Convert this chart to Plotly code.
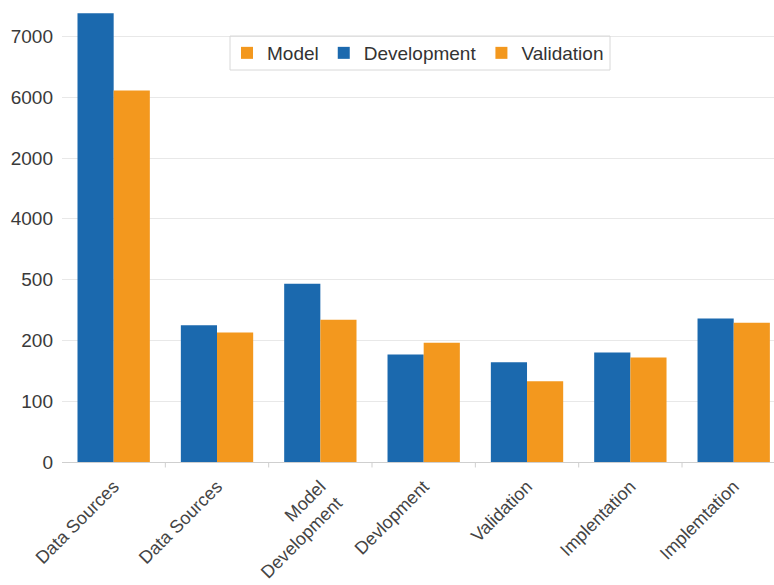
import plotly.graph_objects as go

categories = ["Data Sources", "Data Sources", "Model<br>Development", "Devlopment",
              "Validation", "Implentation", "Implemtation"]
# values in axis position units (the axis has uneven tick labels on even spacing)
development = [7.38, 2.25, 2.93, 1.77, 1.64, 1.80, 2.36]
validation = [6.11, 2.13, 2.34, 1.96, 1.33, 1.72, 2.29]
ytick_labels = ["0", "100", "200", "500", "4000", "2000", "6000", "7000"]

BLUE = "#1b69ae"
ORANGE = "#f3981e"
FONT = "Liberation Sans, Arial, sans-serif"

x = list(range(len(categories)))

fig = go.Figure()
fig.add_trace(go.Bar(x=x, y=development, name="Development", marker_color=BLUE,
                     marker_line_width=0, offsetgroup="d", legendrank=2))
fig.add_trace(go.Bar(x=x, y=validation, name="Validation", marker_color=ORANGE,
                     marker_line_width=0, offsetgroup="v", legendrank=3))
fig.add_trace(go.Bar(x=[None], y=[None], name="Model", marker_color=ORANGE,
                     marker_line_width=0, offsetgroup="v", showlegend=True, legendrank=1))

# plot area: x 62..774 px, y 6..462 px
def px_x(p):
    return (p - 62) / 712.0

def px_y(p):
    return (462 - p) / 456.0

fig.update_layout(
    width=774, height=585,
    margin=dict(l=62, r=0, t=6, b=123),
    barmode="group", bargap=0.3, bargroupgap=0,
    plot_bgcolor="white", paper_bgcolor="white",
    font=dict(family=FONT, color="#3a3a3a"),
    legend=dict(orientation="h", x=px_x(418), y=px_y(53), xanchor="center", yanchor="middle",
                borderwidth=0, bgcolor="rgba(0,0,0,0)",
                font=dict(size=19, color="#333"), itemwidth=30, tracegroupgap=0),
    xaxis=dict(
        range=[-0.5, 6.39], tickmode="array", tickvals=x, ticktext=categories,
        tickangle=-45, tickfont=dict(size=18, color="#444"),
        showline=True, linecolor="#cfcfcf", linewidth=1,
        showgrid=False, zeroline=False, ticks="", ticklabelstandoff=6,
    ),
    yaxis=dict(
        range=[0, 7.5], tickmode="array", tickvals=list(range(len(ytick_labels))),
        ticktext=ytick_labels, tickfont=dict(size=19, color="#3a3a3a"),
        showgrid=True, gridcolor="#e8e8e8", gridwidth=1,
        zeroline=False, showline=False, ticks="", ticklabelstandoff=8,
    ),
)

# legend frame
fig.add_shape(type="rect", xref="paper", yref="paper",
              x0=px_x(230), x1=px_x(610), y0=px_y(70), y1=px_y(36),
              line=dict(color="#d8d8d8", width=1), fillcolor="rgba(0,0,0,0)", layer="above")

# small tick marks at category boundaries
for b in [i + 0.5 for i in range(len(categories) - 1)]:
    fig.add_shape(type="line", xref="x", yref="paper", x0=b, x1=b, y0=0, y1=-0.012,
                  line=dict(color="#cfcfcf", width=1))

fig.write_html("out.html")
